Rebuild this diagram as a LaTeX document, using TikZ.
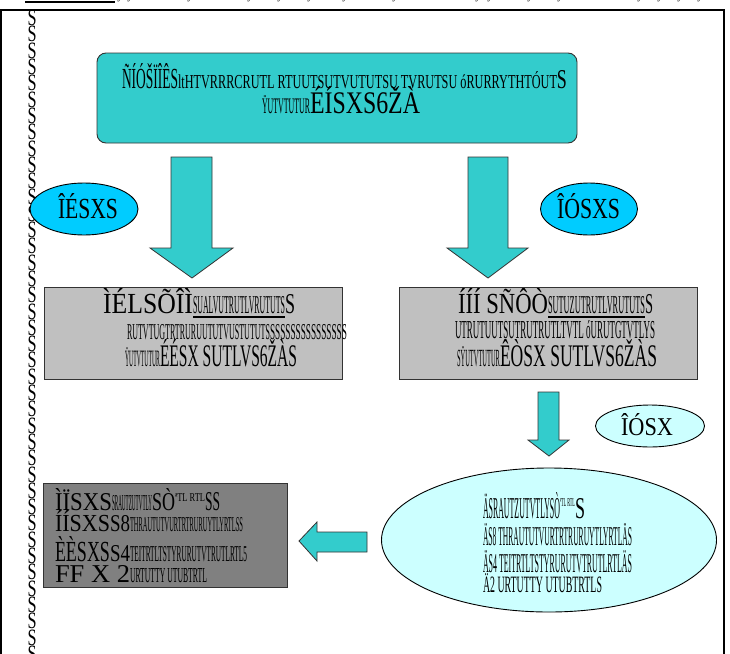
\documentclass[tikz,border=0pt]{standalone}
\usepackage{fontspec}
\setmainfont{Liberation Serif}
\usepackage{graphicx}
\usetikzlibrary{shapes.geometric}
\definecolor{teal1}{HTML}{33CCCC}
\definecolor{skyb}{HTML}{00CCFF}
\definecolor{lcyan}{HTML}{CCFFFF}
\definecolor{lgray}{HTML}{C0C0C0}
\definecolor{dgray}{HTML}{808080}
\newcommand{\sg}[3]{\resizebox{#1pt}{#2pt}{#3}}
\tikzset{
  blockarrow/.style={fill=teal1,draw=black!80,line width=0.8pt,line join=miter},
  txt/.style={anchor=base west,inner sep=0pt,outer sep=0pt},
  oval/.style={ellipse,draw=black,line width=0.9pt,inner sep=0pt},
  boxr/.style={draw=black!80,line width=0.9pt}
}
\begin{document}
\begin{tikzpicture}[x=1pt,y=-1pt]
\useasboundingbox (0,0) rectangle (730,653);
\clip (0,0) rectangle (730,653);
\fill[white] (0,0) rectangle (730,653);
% frame
\draw[line width=1.6pt] (1,10) rectangle (724,680);
\draw[line width=1.4pt] (25,2) -- (115,2);
\foreach \xx in {120,130,190,250,280,310,345,395,478,490,530,560,640,660,680,700}
  \node[anchor=base,inner sep=0pt] at (\xx,-1) {\fontsize{11}{11}\selectfont y};
% left column of S glyphs
\foreach \i in {0,...,39}
  \node[inner sep=0pt] (s\i) at (32,18+16.3*\i) {\sg{9}{15.5}{S}};
% top box
\node[draw=black!80,fill=teal1,rounded corners=9pt,line width=0.9pt,minimum width=480pt,minimum height=90pt] (top) at (337,98) {};
\node[txt] (t1) at (122,88) {\sg{56}{25}{ÑÍÓŠÏÎÊS}\sg{379}{17}{ltHTVRRRCRUTL RTUUTSUTVUTUTSU TVRUTSU óRURRYTHTÓUT}\sg{10}{18}{S}};
\node[txt] (t2) at (262,113) {\sg{48}{18}{ŸUTVTUTUR}\sg{110}{27}{ÉÍSXS6ŽÀ}};
% big arrows
\draw[blockarrow] (171,157) -- (212,157) -- (212,248) -- (233,248) -- (192,278) -- (150,248) -- (171,248) -- cycle;
\draw[blockarrow] (468,157) -- (508,157) -- (508,248) -- (528,248) -- (488,278) -- (447,248) -- (468,248) -- cycle;
% ellipses
\node[oval,fill=skyb,minimum width=108pt,minimum height=52pt] (e1) at (84,209) {};
\node[txt] at (58,218) {\sg{60}{25}{ÎÉSXS}};
\node[oval,fill=skyb,minimum width=97pt,minimum height=52pt] (e2) at (589,209) {};
\node[txt] at (557,218) {\sg{63}{25}{ÎÓSXS}};
% gray boxes
\node[boxr,fill=lgray,minimum width=298pt,minimum height=92pt] (g1) at (193,333) {};
\node[txt] (g1a) at (103,313) {\sg{90}{25}{ÌÉLSÕÎÌ}\sg{92}{17}{\underline{SUALVUTRUTLVRUTUTS}}\sg{10}{19}{S}};
\node[txt] (g1b) at (127,339) {\sg{143}{15}{RUTVTUGTRTRURUUTUTVUSTUTUTS}\sg{77}{15}{SSSSSSSSSSSSSSS}};
\node[txt] (g1c) at (125,366) {\sg{35}{19}{ŸUTVTUTUR}\sg{137}{27}{ÉÉSX SUTLVS6ŽÀS}};
\node[boxr,fill=lgray,minimum width=298pt,minimum height=92pt] (g2) at (548,333) {};
\node[txt] (g2a) at (458,313) {\sg{90}{25}{ÍÍÍ SÑÔÒ}\sg{97}{17}{\underline{SUTUZUTRUTLVRUTUTS}}\sg{8}{19}{S}};
\node[txt] (g2b) at (455,338) {\sg{200}{18}{UTRUTUUTSUTRUTRUTLTVTL óURUTGTVTLYS}};
\node[txt] (g2c) at (457,366) {\sg{43}{20}{SŸUTVTUTUR}\sg{157}{27}{ÊÒSX SUTLVS6ŽÀS}};
% small down arrow + small ellipse
\draw[blockarrow] (538,392) -- (559,392) -- (559,440) -- (569,440) -- (549,456) -- (528,440) -- (538,440) -- cycle;
\node[oval,fill=lcyan,minimum width=109pt,minimum height=42pt] (e3) at (650,426) {};
\node[txt] at (621,435) {\sg{52}{22}{ÎÓSX}};
% dark gray box
\node[boxr,fill=dgray,minimum width=244pt,minimum height=104pt] (d) at (165,535) {};
\node[txt] (d1) at (55,510) {\sg{57}{22}{ÌÏSXS}\sg{40}{15}{SRAUTZUTVTLY}\sg{23}{22}{SÒ}\raisebox{9pt}{\sg{30}{8}{ªTL RTL}}\sg{15}{18}{SS}};
\node[txt] (d2) at (55,531) {\sg{55}{21}{ÍÍSXS}\sg{20}{16}{S8}\sg{113}{14}{THRAUTUTVURTRTRURUYTLYRTLSS}};
\node[txt] (d3) at (55,561) {\sg{55}{25}{ÈÈSXS}\sg{20}{16}{S4}\sg{117}{15}{TEITRTLTSTYRURUTVTRUTLRTL5}};
\node[txt] (d4) at (55,582) {\sg{75}{17}{FF X  2}\sg{77}{14}{URTUTTY UTUBTRTL}};
% left arrow
\draw[blockarrow] (367,532) -- (317,532) -- (317,522) -- (299,541) -- (317,561) -- (317,552) -- (367,552) -- cycle;
% big ellipse
\node[oval,fill=lcyan,minimum width=335pt,minimum height=144pt] (e4) at (549,540) {};
\node[txt] (b1) at (483,518) {\sg{77}{26}{ÄSRAUTZUTVTLYSÒ}\raisebox{12pt}{\sg{15}{8}{ªTL RTL}}\sg{10}{20}{S}};
\node[txt] (b2) at (483,545) {\sg{149}{22}{ÄS8 THRAUTUTVURTRTRURUYTLYRTLÄS}};
\node[txt] (b3) at (483,572) {\sg{149}{22}{ÄS4 TEITRTLTSTYRURUTVTRUTLRTLÄS}};
\node[txt] (b4) at (483,592) {\sg{119}{19}{Ä2 URTUTTY UTUBTRTLS}};
\end{tikzpicture}
\end{document}
